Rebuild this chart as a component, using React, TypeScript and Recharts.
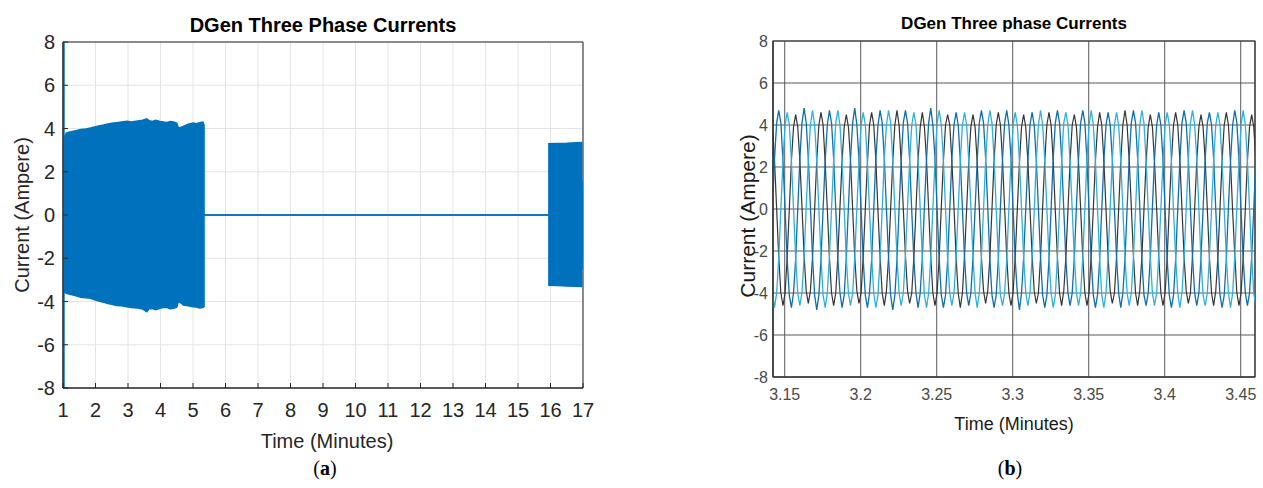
import React from 'react';
import { ComposedChart, LineChart, Line, Area, XAxis, YAxis, CartesianGrid, ReferenceArea } from 'recharts';

// ---- (a) full run: envelope of the three phase currents (minutes / ampere)
const aTime = [1, 1.03, 1.03, 1.1, 1.25, 1.4, 1.55, 1.7, 1.85, 2.0, 2.1, 2.25, 2.35, 2.5, 2.65, 2.8, 2.97, 3.1, 3.3, 3.45, 3.58, 3.65, 3.75, 3.85, 3.99, 4.1, 4.2, 4.3, 4.4, 4.5, 4.55, 4.62, 4.7, 4.85, 5.01, 5.1, 5.2, 5.3, 5.34, 5.34, 15.95, 15.95, 16.2, 16.5, 16.8, 16.96, 16.96, 17];
const aUpper = [8, 8, 3.47, 3.79, 3.85, 3.9, 3.95, 3.98, 4.02, 4.08, 4.12, 4.16, 4.2, 4.24, 4.27, 4.3, 4.33, 4.3, 4.35, 4.38, 4.45, 4.36, 4.33, 4.38, 4.33, 4.3, 4.28, 4.32, 4.3, 4.25, 4.02, 4.05, 4.1, 4.2, 4.25, 4.22, 4.27, 4.3, 4.17, 0, 0, 3.3, 3.31, 3.32, 3.34, 3.35, 1.55, 1.55];
const aLower = [-8, -8, -3.54, -3.62, -3.68, -3.74, -3.8, -3.83, -3.85, -3.93, -3.98, -4.03, -4.08, -4.13, -4.18, -4.2, -4.24, -4.28, -4.3, -4.35, -4.47, -4.33, -4.33, -4.38, -4.31, -4.27, -4.28, -4.33, -4.31, -4.26, -4.0, -4.06, -4.16, -4.2, -4.24, -4.26, -4.3, -4.28, -4.24, 0, 0, -3.25, -3.26, -3.28, -3.29, -3.3, -2.45, -2.45];
const aXTicks = [1, 2, 3, 4, 5, 6, 7, 8, 9, 10, 11, 12, 13, 14, 15, 16, 17];
const yTicks = [-8, -6, -4, -2, 0, 2, 4, 6, 8];

// ---- (b) zoomed window, sampled signal (12 samples per cycle)
const bStart = 3.14192; // time of first sample, minutes
const bStep = 1 / 720; // sample interval, minutes
const bXTicks = [3.15, 3.2, 3.25, 3.3, 3.35, 3.4, 3.45];

const bPhaseA = [
  4.0, 2.3, 0.0, -2.3, -4.0, -4.6, -4.0, -2.3, 0.0, 2.3, 3.9, 4.5,
  3.9, 2.3, 0.1, -2.2, -3.9, -4.5, -3.9, -2.3, 0.0, 2.3, 4.0, 4.6,
  4.0, 2.2, 0.0, -2.3, -4.0, -4.6, -4.0, -2.2, 0.1, 2.3, 3.9, 4.5,
  3.9, 2.3, 0.0, -2.3, -3.9, -4.5, -4.0, -2.3, 0.0, 2.2, 4.0, 4.6,
  4.0, 2.3, -0.1, -2.3, -4.0, -4.6, -3.9, -2.3, 0.0, 2.3, 4.0, 4.7,
  4.0, 2.2, 0.0, -2.2, -3.9, -4.5, -4.0, -2.3, 0.0, 2.3, 3.9, 4.6,
  3.9, 2.3, 0.0, -2.3, -4.0, -4.6, -4.0, -2.3, 0.1, 2.3, 4.0, 4.5,
  4.0, 2.3, 0.1, -2.3, -4.0, -4.7, -4.0, -2.2, 0.0, 2.3, 3.9, 4.5,
  3.9, 2.2, 0.0, -2.3, -3.9, -4.5, -3.9, -2.3, 0.0, 2.3, 4.0, 4.6,
  4.0, 2.3, 0.0, -2.3, -4.0, -4.6, -4.0, -2.3, 0.0, 2.2, 3.9, 4.5,
  3.9, 2.3, 0.0, -2.2, -3.9, -4.5, -4.0, -2.3, 0.1, 2.3, 4.0, 4.6,
  4.0, 2.3, -0.1, -2.3, -4.0, -4.6, -3.9, -2.3, 0.0, 2.3, 4.0, 4.5,
  3.9, 2.2, 0.0, -2.3, -4.0, -4.6, -4.0, -2.2, 0.0, 2.3, 3.9, 4.6,
  4.0, 2.3, 0.0, -2.3, -3.9, -4.5, -4.0, -2.3, 0.0, 2.3, 4.0, 4.7,
  4.0, 2.3, 0.1, -2.2, -4.0, -4.6, -3.9, -2.3, 0.0, 2.2, 3.9, 4.5,
  3.9, 2.2, 0.0, -2.3, -4.0, -4.6, -4.0, -2.3, 0.1, 2.3, 4.0, 4.6,
  4.0, 2.3, 0.0, -2.3, -3.9, -4.5, -4.0, -2.2, 0.0, 2.3, 3.9, 4.5,
  3.9, 2.3, 0.0, -2.3, -4.0, -4.6, -3.9, -2.3, 0.0, 2.3, 4.0, 4.6,
  4.0, 2.2, -0.1, -2.2, -4.0, -4.6, -4.0, -2.3, 0.0, 2.3, 3.9, 4.5,
  3.9, 2.3,
];

const bPhaseB = [
  0.1, 2.4, 4.1, 4.7, 4.1, 2.3, 0.0, -2.4, -4.1, -4.7, -4.0, -2.4,
  0.0, 2.4, 4.1, 4.8, 4.1, 2.4, 0.1, -2.3, -4.1, -4.8, -4.1, -2.4,
  0.0, 2.3, 4.0, 4.7, 4.1, 2.4, 0.0, -2.4, -4.0, -4.7, -4.1, -2.3,
  0.1, 2.4, 4.1, 4.8, 4.0, 2.3, 0.0, -2.4, -4.1, -4.7, -4.0, -2.4,
  0.0, 2.4, 4.0, 4.7, 4.1, 2.4, 0.0, -2.3, -4.1, -4.8, -4.1, -2.4,
  0.0, 2.3, 4.1, 4.7, 4.1, 2.3, -0.1, -2.4, -4.0, -4.7, -4.0, -2.3,
  0.1, 2.4, 4.1, 4.8, 4.0, 2.4, 0.0, -2.4, -4.1, -4.7, -4.1, -2.4,
  0.0, 2.4, 4.0, 4.6, 4.0, 2.3, 0.0, -2.3, -4.0, -4.6, -4.0, -2.3,
  0.0, 2.3, 4.1, 4.7, 4.1, 2.4, 0.1, -2.4, -4.1, -4.7, -4.1, -2.4,
  0.1, 2.4, 4.1, 4.7, 4.0, 2.4, 0.0, -2.4, -4.0, -4.8, -4.0, -2.3,
  0.0, 2.3, 4.0, 4.6, 4.0, 2.3, 0.0, -2.3, -4.1, -4.7, -4.1, -2.4,
  0.0, 2.4, 4.1, 4.7, 4.1, 2.4, 0.0, -2.4, -4.0, -4.6, -4.0, -2.3,
  0.1, 2.4, 4.1, 4.7, 4.1, 2.3, -0.1, -2.4, -4.1, -4.7, -4.1, -2.4,
  0.0, 2.3, 4.0, 4.6, 4.0, 2.4, 0.0, -2.3, -4.0, -4.7, -4.0, -2.4,
  0.0, 2.4, 4.1, 4.7, 4.1, 2.4, 0.1, -2.4, -4.1, -4.6, -4.0, -2.3,
  0.1, 2.4, 4.0, 4.6, 4.0, 2.3, 0.0, -2.4, -4.1, -4.7, -4.1, -2.4,
  0.0, 2.3, 4.1, 4.7, 4.1, 2.4, 0.0, -2.3, -4.0, -4.6, -4.0, -2.3,
  0.0, 2.4, 4.1, 4.6, 4.0, 2.4, 0.0, -2.4, -4.1, -4.7, -4.1, -2.4,
  0.1, 2.3, 4.0, 4.7, 4.1, 2.3, -0.1, -2.4, -4.0, -4.6, -4.0, -2.3,
  0.0, 2.4,
];

const bPhaseC = [
  -4.0, -4.7, -4.0, -2.3, 0.0, 2.3, 4.0, 4.6, 4.0, 2.3, 0.0, -2.3,
  -4.0, -4.6, -4.0, -2.3, 0.1, 2.3, 4.0, 4.7, 4.0, 2.3, 0.0, -2.3,
  -4.1, -4.7, -4.0, -2.3, 0.0, 2.3, 4.1, 4.7, 4.0, 2.3, 0.0, -2.4,
  -4.0, -4.6, -4.0, -2.3, 0.0, 2.3, 4.0, 4.6, 4.0, 2.2, -0.1, -2.3,
  -4.0, -4.7, -4.1, -2.3, 0.0, 2.4, 4.0, 4.7, 4.1, 2.3, 0.0, -2.3,
  -4.0, -4.6, -4.0, -2.2, 0.1, 2.3, 4.0, 4.6, 4.0, 2.3, 0.0, -2.3,
  -4.1, -4.7, -4.0, -2.3, 0.0, 2.3, 4.1, 4.7, 4.0, 2.3, 0.0, -2.4,
  -4.0, -4.6, -4.0, -2.3, 0.0, 2.3, 4.0, 4.6, 4.0, 2.3, 0.1, -2.3,
  -4.0, -4.7, -4.0, -2.3, 0.0, 2.3, 4.0, 4.7, 4.1, 2.4, 0.0, -2.3,
  -4.1, -4.6, -4.0, -2.4, 0.0, 2.3, 4.0, 4.6, 4.0, 2.3, 0.0, -2.3,
  -4.0, -4.6, -4.0, -2.3, -0.1, 2.3, 4.0, 4.7, 4.0, 2.3, 0.0, -2.3,
  -4.0, -4.7, -4.1, -2.3, 0.0, 2.3, 4.1, 4.6, 4.0, 2.2, 0.0, -2.3,
  -4.0, -4.6, -4.0, -2.3, 0.0, 2.4, 4.0, 4.7, 4.0, 2.3, 0.0, -2.4,
  -4.1, -4.7, -4.0, -2.3, 0.1, 2.3, 4.0, 4.6, 4.0, 2.3, 0.0, -2.3,
  -4.0, -4.6, -4.0, -2.3, 0.0, 2.3, 4.0, 4.7, 4.1, 2.3, 0.0, -2.3,
  -4.0, -4.6, -4.0, -2.2, 0.0, 2.3, 4.0, 4.6, 4.0, 2.3, -0.1, -2.3,
  -4.0, -4.7, -4.0, -2.3, 0.0, 2.3, 4.1, 4.7, 4.0, 2.4, 0.0, -2.4,
  -4.1, -4.6, -4.0, -2.3, 0.0, 2.3, 4.0, 4.6, 4.0, 2.3, 0.0, -2.3,
  -4.0, -4.7, -4.0, -2.3, 0.1, 2.3, 4.0, 4.7, 4.0, 2.3, 0.0, -2.3,
  -4.0, -4.6,
];

const aData = aTime.map((t, i) => ({ t, band: [aLower[i], aUpper[i]] }));
const bData = bPhaseA.map((v, i) => ({ t: bStart + i * bStep, a: v, b: bPhaseB[i], c: bPhaseC[i] }));

const sans = "'Liberation Sans', Arial, Helvetica, sans-serif";

const centered = (left: number, top: number, extra: React.CSSProperties = {}): React.CSSProperties => ({
  position: 'absolute',
  left,
  top,
  transform: 'translate(-50%, -50%)',
  whiteSpace: 'nowrap',
  fontFamily: sans,
  lineHeight: 1,
  ...extra,
});

function PanelA() {
  return (
    <div style={{ position: 'absolute', left: 0, top: 0 }}>
      <ComposedChart width={600} height={488} data={aData} margin={{ top: 42, right: 17, bottom: 0, left: 0 }}>
        <CartesianGrid stroke="#e4e4e4" strokeWidth={1} />
        <XAxis
          dataKey="t"
          type="number"
          domain={[1, 17]}
          ticks={aXTicks}
          interval={0}
          allowDataOverflow
          height={100}
          tickSize={-5}
          tickMargin={20}
          stroke="#262626"
          tick={{ fill: '#262626', fontSize: 20, fontFamily: sans }}
        />
        <YAxis
          type="number"
          domain={[-8, 8]}
          ticks={yTicks}
          interval={0}
          allowDataOverflow
          width={63}
          tickSize={-5}
          tickMargin={13}
          stroke="#262626"
          tick={{ fill: '#262626', fontSize: 20, fontFamily: sans }}
        />
        <ReferenceArea x1={1} x2={17} y1={-8} y2={8} fill="none" stroke="#262626" strokeWidth={1} />
        <Area
          dataKey="band"
          type="linear"
          stroke="#0072BD"
          strokeWidth={1.5}
          fill="#0072BD"
          fillOpacity={1}
          dot={false}
          activeDot={false}
          isAnimationActive={false}
        />
      </ComposedChart>
      <div style={centered(323, 25, { fontWeight: 'bold', fontSize: 20 })}>DGen Three Phase Currents</div>
      <div style={centered(22, 215, { fontSize: 20, color: '#262626', transform: 'translate(-50%, -50%) rotate(-90deg)' })}>Current (Ampere)</div>
      <div style={centered(327, 441, { fontSize: 20, color: '#262626' })}>Time (Minutes)</div>
      <div style={centered(325, 468, { fontSize: 20, fontFamily: "'Liberation Serif', 'DejaVu Serif', serif" })}>
        (<b>a</b>)
      </div>
    </div>
  );
}

function PanelB() {
  return (
    <div style={{ position: 'absolute', left: 700, top: 0 }}>
      <LineChart width={563} height={488} data={bData} margin={{ top: 41, right: 8, bottom: 0, left: 0 }}>
        <CartesianGrid stroke="#5a5a5a" strokeWidth={1} />
        <XAxis
          dataKey="t"
          type="number"
          domain={[3.1423, 3.4594]}
          ticks={bXTicks}
          interval={0}
          allowDataOverflow
          height={111}
          tickSize={0}
          tickMargin={12}
          stroke="#333"
          tick={{ fill: '#4a4a4a', fontSize: 16, fontFamily: sans }}
        />
        <YAxis
          type="number"
          domain={[-8, 8]}
          ticks={yTicks}
          interval={0}
          allowDataOverflow
          width={73}
          tickSize={0}
          tickMargin={5}
          stroke="#333"
          tick={{ fill: '#4a4a4a', fontSize: 16, fontFamily: sans }}
        />
        <ReferenceArea x1={3.1423} x2={3.4594} y1={-8} y2={8} fill="none" stroke="#333" strokeWidth={1.2} />
        <Line dataKey="a" type="linear" stroke="#353535" strokeWidth={1.2} dot={false} activeDot={false} isAnimationActive={false} />
        <Line dataKey="b" type="linear" stroke="#0f6fae" strokeWidth={1.3} dot={false} activeDot={false} isAnimationActive={false} />
        <Line dataKey="c" type="linear" stroke="#2eb0dc" strokeWidth={1.3} dot={false} activeDot={false} isAnimationActive={false} />
      </LineChart>
      <div style={centered(314, 23, { fontWeight: 'bold', fontSize: 17 })}>DGen Three phase Currents</div>
      <div style={centered(47, 216, { fontSize: 21, color: '#1a1a1a', transform: 'translate(-50%, -50%) rotate(-90deg)' })}>Current (Ampere)</div>
      <div style={centered(314, 424, { fontSize: 18, color: '#1a1a1a' })}>Time (Minutes)</div>
      <div style={centered(310, 468, { fontSize: 20, fontFamily: "'Liberation Serif', 'DejaVu Serif', serif" })}>
        (<b>b</b>)
      </div>
    </div>
  );
}

export default function App() {
  return (
    <div style={{ position: 'absolute', left: 0, top: 0, width: 1263, height: 488, background: '#fff', overflow: 'hidden' }}>
      <PanelA />
      <PanelB />
    </div>
  );
}
